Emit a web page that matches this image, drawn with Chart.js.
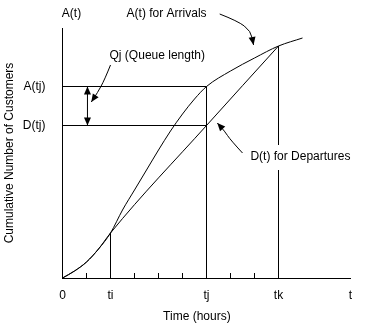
<!DOCTYPE html>
<html>
<head>
<meta charset="utf-8">
<script src="https://cdn.jsdelivr.net/npm/chart.js@4/dist/chart.umd.min.js"></script>
<style>
  html, body { margin: 0; padding: 0; background: #fff; }
  #wrap { width: 370px; height: 328px; }
</style>
</head>
<body>
<div id="wrap"><canvas id="c" width="370" height="328"></canvas></div>
<script>
// Time axis: labelled instants and the small tick marks
const xTickValues = [0, 2, 6, 9, 12];
const xTickLabels = ['0', 'ti', 'tj', 'tk', 't'];
const minorTicks = [1, 2, 3, 4, 5, 6, 7, 8, 9];

// Cumulative arrivals A(t)
const arrivalTimes = [0, 0.5, 1, 1.5, 2, 2.5, 3, 3.5, 4, 4.5, 5, 5.5, 6, 7, 8, 9, 10];
const arrivals     = [0, 0.7, 1.6, 2.9, 4.5, 6.8, 8.8, 10.8, 12.8, 14.7, 16.4, 17.9, 19.15, 20.7, 22.0, 23.2, 24.0];

// Cumulative departures D(t)
const departureTimes = [0, 0.5, 1, 1.5, 2, 6, 9];
const departures     = [0, 0.7, 1.6, 2.9, 4.5, 15.25, 23.2];

// Labelled levels on the vertical axis
const yTickValues = [15.25, 19.15];
const yTickLabels = ['D(tj)', 'A(tj)'];

const ti = xTickValues[1], tj = xTickValues[2], tk = xTickValues[3];
const A_at = t => arrivals[arrivalTimes.indexOf(t)];
const D_at = t => departures[departureTimes.indexOf(t)];

const FONT = '"Liberation Sans", Arial, sans-serif';
const FONT_SIZE = 12;
Chart.defaults.font.family = FONT;
Chart.defaults.font.size = FONT_SIZE;
Chart.defaults.color = '#000';

const pts = (xs, ys) => xs.map((x, i) => ({ x, y: ys[i] }));
const seg = (x0, y0, x1, y1) => [{ x: x0, y: y0 }, { x: x1, y: y1 }];

// Callout texts and arrows, placed in axis units
const notes = [
  { text: 'A(t)', x: 0.375, y: 26.45, align: 'center' },
  { text: 'A(t) for Arrivals', x: 2.67, y: 26.4, align: 'left' },
  { text: 'Qj (Queue length)', x: 1.96, y: 22.2, align: 'left' },
  { text: 'D(t) for Departures', x: 7.83, y: 12.1, align: 'left', knockout: true },
  { text: 'Time (hours)', x: 5.6, y: -3.9, align: 'center' }
];
const arrows = [
  { path: [[6.55, 26.4], [7.3, 25.7], [7.85, 24.7], [7.96, 23.3]], heads: 'end' },
  { path: [[2.0, 21.3], [1.75, 19.8], [1.45, 18.5], [1.2, 17.6]], heads: 'end' },
  { path: [[7.5, 12.5], [7.0, 13.8], [6.75, 14.7], [6.45, 15.5]], heads: 'end' },
  { path: [[1.04, D_at(tj)], [1.04, A_at(tj)]], heads: 'both' }
];

const notePlugin = {
  id: 'notes',
  afterDatasetsDraw(chart) {
    const { ctx, scales: { x, y }, chartArea } = chart;
    const px = v => x.getPixelForValue(v);
    const py = v => y.getPixelForValue(v);
    ctx.save();
    ctx.strokeStyle = '#000';
    ctx.fillStyle = '#000';
    ctx.lineWidth = 1;

    // tick marks pointing up into the plot
    const base = Math.round(chartArea.bottom);
    minorTicks.forEach(t => {
      ctx.beginPath();
      ctx.moveTo(px(t), base);
      ctx.lineTo(px(t), base - 5);
      ctx.stroke();
    });

    const head = (from, to) => {
      const ang = Math.atan2(to[1] - from[1], to[0] - from[0]);
      const L = 8, W = 3.5;
      ctx.beginPath();
      ctx.moveTo(to[0], to[1]);
      ctx.lineTo(to[0] - L * Math.cos(ang) + W * Math.sin(ang), to[1] - L * Math.sin(ang) - W * Math.cos(ang));
      ctx.lineTo(to[0] - L * Math.cos(ang) - W * Math.sin(ang), to[1] - L * Math.sin(ang) + W * Math.cos(ang));
      ctx.closePath();
      ctx.fill();
    };

    arrows.forEach(a => {
      const P = a.path.map(p => [px(p[0]), py(p[1])]);
      ctx.beginPath();
      ctx.moveTo(P[0][0], P[0][1]);
      for (let i = 1; i < P.length - 1; i++) {
        const mx = (P[i][0] + P[i + 1][0]) / 2, my = (P[i][1] + P[i + 1][1]) / 2;
        ctx.quadraticCurveTo(P[i][0], P[i][1], mx, my);
      }
      ctx.lineTo(P[P.length - 1][0], P[P.length - 1][1]);
      ctx.stroke();
      const n = P.length;
      head(P[n - 2], P[n - 1]);
      if (a.heads === 'both') head(P[1], P[0]);
    });

    ctx.font = FONT_SIZE + 'px ' + FONT;
    ctx.textBaseline = 'middle';
    notes.forEach(n => {
      const X = px(n.x), Y = py(n.y);
      ctx.textAlign = n.align;
      if (n.knockout) {
        const w = ctx.measureText(n.text).width;
        const left = n.align === 'left' ? X : X - w / 2;
        ctx.fillStyle = '#fff';
        ctx.fillRect(left - 3, Y - 12, w + 6, 25);
        ctx.fillStyle = '#000';
      }
      ctx.fillText(n.text, X, Y);
    });
    ctx.restore();
  }
};

new Chart(document.getElementById('c'), {
  type: 'scatter',
  data: {
    datasets: [
      { data: pts(arrivalTimes, arrivals), cubicInterpolationMode: 'monotone' },
      { data: pts(departureTimes, departures), cubicInterpolationMode: 'monotone' },
      { data: seg(0, A_at(tj), tj, A_at(tj)) },
      { data: seg(0, D_at(tj), tj, D_at(tj)) },
      { data: seg(ti, 0, ti, A_at(ti)) },
      { data: seg(tj, 0, tj, A_at(tj)) },
      { data: seg(tk, 0, tk, A_at(tk)) }
    ].map(d => Object.assign({ showLine: true, borderColor: '#000', borderWidth: 1, pointRadius: 0, fill: false }, d))
  },
  options: {
    responsive: false,
    animation: false,
    events: [],
    layout: { padding: { top: 28, right: 19.5, left: 0, bottom: 0 } },
    plugins: { legend: { display: false }, tooltip: { enabled: false } },
    scales: {
      x: {
        type: 'linear', min: 0, max: 12,
        grid: { display: false },
        border: { display: true, color: '#000', width: 1 },
        afterBuildTicks: s => { s.ticks = xTickValues.map(v => ({ value: v })); },
        ticks: {
          autoSkip: false, maxRotation: 0, padding: 2, color: '#000',
          callback: v => { const i = xTickValues.indexOf(v); return i >= 0 ? xTickLabels[i] : ''; }
        },
        afterFit: s => { s.height = 50; }
      },
      y: {
        type: 'linear', min: 0, max: 25,
        grid: { display: false },
        border: { display: true, color: '#000', width: 1 },
        afterBuildTicks: s => { s.ticks = yTickValues.map(v => ({ value: v })); },
        ticks: {
          padding: 9, color: '#000',
          callback: v => { const i = yTickValues.indexOf(v); return i >= 0 ? yTickLabels[i] : ''; }
        },
        title: { display: true, text: 'Cumulative Number of Customers', padding: { top: 2, bottom: 0 }, color: '#000' },
        afterFit: s => { s.width = 62.5; }
      }
    }
  },
  plugins: [notePlugin]
});
</script>
</body>
</html>
